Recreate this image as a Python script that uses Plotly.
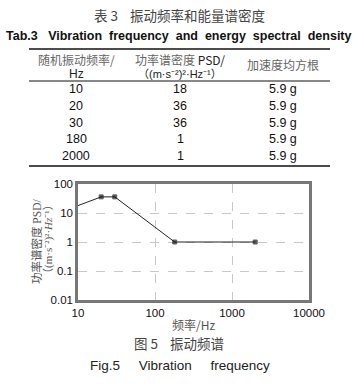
import plotly.graph_objects as go

# ---- data ----
freq = [10, 20, 30, 180, 2000]
psd = [18, 36, 36, 1, 1]
rms = ["5.9 g", "5.9 g", "5.9 g", "5.9 g", "5.9 g"]
y_ticks = [0.01, 0.1, 1, 10, 100]
y_ticktext = ["0.01", "0.1", "1", "10", "100"]
x_ticks = [10, 100, 1000, 10000]
x_ticktext = ["10", "100", "1000", "10000"]

W, H = 353, 384
L, R, T, B = 78, 309, 184, 300  # plot area in pixels


def px(x, y):
    return (x - L) / (R - L), (B - y) / (B - T)


SANS = "Liberation Sans, Arial, Noto Sans CJK SC"
CJK = "Noto Sans CJK SC, Liberation Sans"

fig = go.Figure()
fig.add_trace(go.Scatter(
    x=freq, y=psd, mode="lines+markers",
    line=dict(color="#222", width=1),
    marker=dict(symbol="square", size=[0, 4, 4, 4, 4], color="#111"),
    cliponaxis=False, showlegend=False,
))

annotations = []


def text(x, y, s, size=12, color="#111", family=SANS, angle=0, xanchor="center"):
    xp, yp = px(x, y)
    annotations.append(dict(
        x=xp, y=yp, xref="paper", yref="paper", text=s, showarrow=False,
        xanchor=xanchor, yanchor="middle", textangle=angle,
        font=dict(size=size, color=color, family=family),
    ))


# table titles
text(179, 15, "表 3    振动频率和能量谱密度", size=13.5, color="#444", family=CJK)
text(179, 36, "<b>Tab.3   Vibration  frequency  and  energy  spectral  density</b>", size=12.5, color="#111")

# header
text(76, 59, "随机振动频率/", size=12, color="#666", family=CJK)
text(76, 74, "Hz", size=12, color="#222")
text(180, 59, "功率谱密度 <span style='color:#222'>PSD/</span>", size=12, color="#666", family=CJK)
text(180, 74, "（(m·s⁻²)²·Hz⁻¹）", size=11, color="#222", family=SANS)
text(283, 65, "加速度均方根", size=12, color="#666", family=CJK)

row_y = [89, 106, 123, 139, 156]
for f, p, r, yy in zip(freq, psd, rms, row_y):
    text(76, yy, str(f), size=12.5)
    text(180, yy, str(p), size=12.5)
    text(283, yy, r, size=12.5)

shapes = []
for yy, w in [(49, 1.5), (81, 1), (166, 1.5)]:
    x0, y0 = px(29, yy)
    x1, _ = px(330, yy)
    shapes.append(dict(type="line", xref="paper", yref="paper", x0=x0, x1=x1, y0=y0, y1=y0,
                       line=dict(color="#111", width=w)))

# y-axis title (two rotated lines)
text(36, 242, "功率谱密度 PSD/", size=11.5, color="#555", family="Liberation Serif, Noto Sans CJK SC", angle=-90)
text(48, 239, "（(m·s⁻²)²·<i>Hz</i>⁻¹）", size=11, color="#555", family="Liberation Serif, Noto Sans CJK SC", angle=-90)

# x-axis title and figure captions
text(193, 324, "频率/Hz", size=12, color="#555", family=CJK)
text(179, 343, "图 5    振动频谱", size=13.5, color="#444", family=CJK)
text(180, 365, "Fig.5     Vibration     frequency", size=13.5, color="#222")

fig.update_layout(
    width=W, height=H,
    margin=dict(l=L, r=W - R, t=T, b=H - B, pad=0),
    paper_bgcolor="white", plot_bgcolor="white",
    annotations=annotations, shapes=shapes,
    xaxis=dict(type="log", range=[1, 4], tickvals=x_ticks, ticktext=x_ticktext,
               showline=True, mirror=True, linecolor="#777", linewidth=2.5,
               showgrid=True, gridcolor="#c8c8c8", griddash="dash", gridwidth=1,
               ticks="", zeroline=False,
               tickfont=dict(size=11.5, color="#111", family=SANS)),
    yaxis=dict(type="log", range=[-2, 2], tickvals=y_ticks, ticktext=y_ticktext,
               showline=True, mirror=True, linecolor="#777", linewidth=2.5,
               showgrid=True, gridcolor="#c8c8c8", griddash="dash", gridwidth=1,
               ticks="", zeroline=False,
               tickfont=dict(size=11.5, color="#111", family=SANS)),
)

fig.write_html("out.html")
